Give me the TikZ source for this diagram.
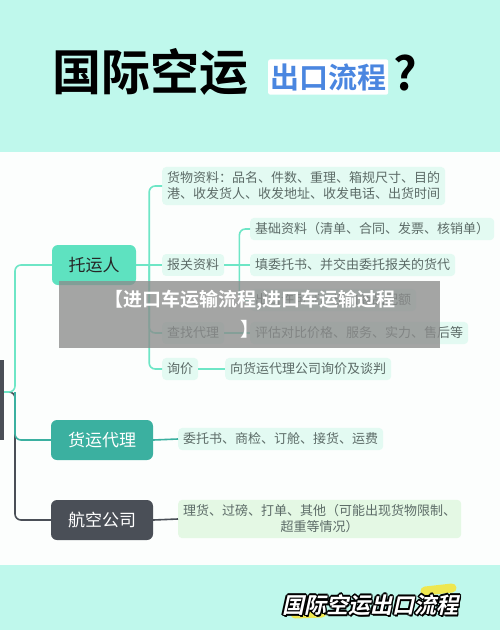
\documentclass[tikz,border=0pt]{standalone}
\usepackage{fontspec}
\setmainfont{Noto Sans CJK SC}[BoldFont={Noto Sans CJK SC Bold}]
\definecolor{mintbg}{HTML}{BFF8EC}
\definecolor{bodybg}{HTML}{FCFEFD}
\definecolor{tyfill}{HTML}{5EE2C0}
\definecolor{tealfill}{HTML}{3BB0A0}
\definecolor{grayfill}{HTML}{4A4F57}
\definecolor{leaffill}{HTML}{E3FAF2}
\definecolor{leaffillb}{HTML}{E4F8E4}
\definecolor{leaftext}{HTML}{5C6B67}
\definecolor{linemint}{HTML}{6EE6C6}
\definecolor{titleblue}{HTML}{4A86E0}
\definecolor{hl}{HTML}{F4E640}
\tikzset{
  mainbox/.style={rounded corners=6pt, minimum width=84pt, minimum height=40pt, inner sep=0pt, font=\fontsize{17}{17}\selectfont},
  leaf/.style={rounded corners=4pt, fill=leaffill, text=leaftext, anchor=west, inner xsep=5pt, inner ysep=5pt, font=\fontsize{13}{16}\selectfont, align=left},
  conn/.style={line width=1.6pt, rounded corners=6pt},
  btitle/.style={transform shape, font=\fontsize{22}{22}\selectfont\bfseries, inner sep=0pt, anchor=west},
}
\begin{document}
\begin{tikzpicture}[x=1pt,y=-1pt]
\useasboundingbox (0,0) rectangle (500,630);
% backgrounds
\fill[bodybg] (0,0) rectangle (500,630);
\fill[mintbg] (0,0) rectangle (500,152);
\fill[mintbg] (0,565) rectangle (500,630);
% title
\node[anchor=west, inner sep=0pt, font=\fontsize{49}{49}\selectfont\bfseries, text=black] (t1) at (52,72) {国际空运};
\node[fill=white, rounded corners=2pt, inner xsep=2pt, inner ysep=4pt, anchor=west, font=\fontsize{29}{29}\selectfont\bfseries, text=titleblue] (t2) at (268,77) {出口流程};
\node[anchor=west, inner sep=0pt, font=\fontsize{46}{46}\selectfont\bfseries, text=black] (t3) at (393,73) {?};
% root
\fill[grayfill] (0,360) rectangle (4,440);
\coordinate (root) at (4,392);
% main nodes
\node[mainbox, fill=tyfill, text=black!85] (a) at (94,265) {托运人};
\node[mainbox, fill=tealfill, text=white, minimum width=102pt] (b) at (102,440) {货运代理};
\node[mainbox, fill=grayfill, text=white, minimum width=102pt] (c) at (102,520) {航空公司};
% leaves of a
\node[leaf] (a1) at (162,186) {货物资料：品名、件数、重理、箱规尺寸、目的\\港、收发货人、收发地址、收发电话、出货时间};
\node[leaf] (a2) at (162,265) {报关资料};
\node[leaf] (a3) at (162,333) {查找代理};
\node[leaf] (a4) at (162,369) {询价};
\node[leaf] (a21) at (250,229) {基础资料（清单、合同、发票、核销单）};
\node[leaf] (a22) at (250,265) {填委托书、并交由委托报关的货代};
\node[leaf] (a23) at (250,300) {出口许可证、出口商品配额};
\node[leaf] (a31) at (250,333) {评估对比价格、服务、实力、售后等};
\node[leaf] (a41) at (225,369) {向货运代理公司询价及谈判};
\node[leaf] (b1) at (178,439) {委托书、商检、订舱、接货、运费};
\node[leaf, fill=leaffillb, align=center] (c1) at (178,519) {理货、过磅、打单、其他（可能出现货物限制、\\超重等情况）};
% connectors from root
\draw[conn, grayfill] (root) -- ([xshift=11pt]root) |- (c.west);
\draw[conn, tealfill] ([xshift=11pt]root) |- (b.west);
\draw[conn, linemint] (root) -- ([xshift=11pt]root) |- (a.west);
% a children
\coordinate (ja) at ([xshift=13pt]a.east);
\draw[conn, linemint] (a.east) -- (ja);
\draw[conn, linemint] (ja) |- (a1.west);
\draw[conn, linemint] (ja) |- (a4.west);
\draw[conn, linemint] (ja) |- (a3.west);
\draw[conn, linemint] (ja) -- (a2.west);
\coordinate (jb) at ([xshift=15pt]a2.east);
\draw[conn, linemint] (a2.east) -- (jb);
\draw[conn, linemint] (jb) |- (a21.west);
\draw[conn, linemint] (jb) |- (a23.west);
\draw[conn, linemint] (jb) -- (a22.west);
\draw[conn, linemint] (a3.east) -- (a31.west);
\draw[conn, linemint] (a4.east) -- (a41.west);
\draw[conn, tealfill] (b.east) -- (b1.west);
\draw[conn, grayfill] (c.east) -- (c1.west);
% overlay
\fill[black!45, opacity=0.78] (59,281) rectangle (440,348);
\node[text=white, font=\fontsize{19}{30}\selectfont\bfseries, align=center, inner sep=0pt] (ov) at (250,314) {【进口车运输流程,进口车运输过程\\】};
% bottom title
\draw[hl, line width=9pt, line cap=round, opacity=0.9] (295,614) -- (322,613);
\draw[hl, line width=9pt, line cap=round, opacity=0.9] (425,591) -- (452,588);
\begin{scope}[shift={(284,605)}, xslant=0.22]
\foreach \dx/\dy in {-1.5/0,1.5/0,0/-1.5,0/1.5,-1.1/-1.1,1.1/1.1,-1.1/1.1,1.1/-1.1,2/2}{
  \node[btitle, text=black] at (\dx,\dy) {国际空运出口流程};
}
\node[btitle, text=white] (bt) at (0,0) {国际空运出口流程};
\end{scope}
\end{tikzpicture}
\end{document}
